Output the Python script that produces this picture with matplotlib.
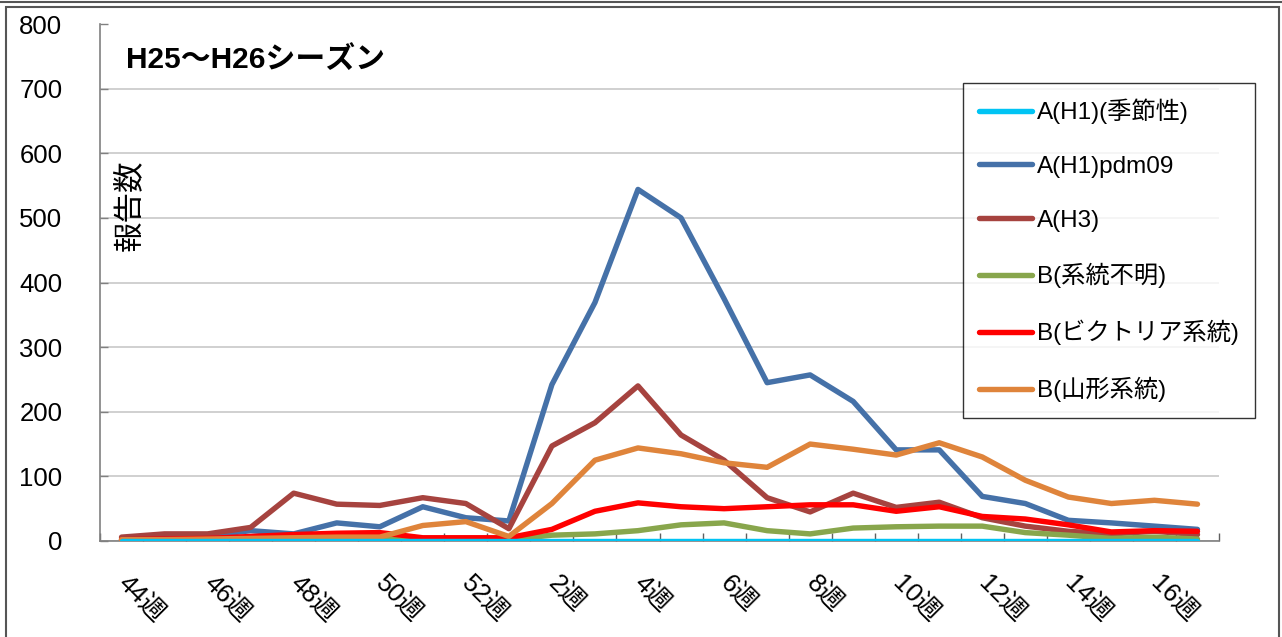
import matplotlib
matplotlib.use("Agg")
import matplotlib.pyplot as plt
from matplotlib.patches import Rectangle
from matplotlib.lines import Line2D

plt.rcParams['font.family'] = ['Liberation Sans', 'Noto Sans CJK JP', 'DejaVu Sans']

# weeks 44..52 then 1..17
weeks = [44, 45, 46, 47, 48, 49, 50, 51, 52] + list(range(1, 18))
week_labels = [f"{w}週" for w in weeks]

h1_seasonal = [0] * 26
h1_pdm09 = [3, 5, 8, 16, 11, 28, 22, 53, 36, 31, 242, 369, 544, 500, 375, 245, 257, 216, 141, 141, 69, 58, 32, 28, 23, 18]
h3 = [6, 11, 11, 21, 74, 57, 55, 67, 58, 19, 147, 183, 240, 164, 125, 67, 45, 74, 52, 60, 36, 23, 15, 11, 15, 10]
b_unknown = [0, 0, 1, 1, 2, 3, 3, 2, 2, 2, 9, 11, 16, 25, 28, 16, 11, 20, 22, 23, 23, 13, 9, 4, 6, 3]
b_victoria = [2, 3, 4, 7, 10, 12, 13, 5, 5, 5, 18, 46, 59, 53, 50, 53, 56, 56, 46, 53, 38, 34, 25, 14, 16, 15]
b_yamagata = [2, 2, 3, 4, 5, 6, 6, 24, 30, 7, 58, 125, 144, 135, 121, 114, 150, 142, 133, 152, 130, 94, 68, 58, 63, 57]

series = [
    ("A(H1)(季節性)", h1_seasonal, "#00C4F4"),
    ("A(H1)pdm09", h1_pdm09, "#4571A8"),
    ("A(H3)", h3, "#A6433F"),
    ("B(系統不明)", b_unknown, "#88A64C"),
    ("B(ビクトリア系統)", b_victoria, "#FF0000"),
    ("B(山形系統)", b_yamagata, "#DF843B"),
]

fig = plt.figure(figsize=(12.82, 6.37), dpi=100)
ax = fig.add_axes([100 / 1282, 1 - 541 / 637, 1119 / 1282, 517 / 637])

x = list(range(len(weeks)))
handles = []
# draw so the later series sit on top like the original
draw_order = [1, 2, 5, 4, 3, 0]
for k in draw_order:
    name, vals, col = series[k]
    ax.plot(x, vals, color=col, lw=3.9, solid_capstyle='round', solid_joinstyle='round', zorder=3 + k * 0.01 if k else 4)
for name, vals, col in series:
    handles.append(Line2D([], [], color=col, lw=3.9, solid_capstyle='round', label=name))

ax.set_xlim(-0.5, len(weeks) - 0.5)
ax.set_ylim(0, 800)
ax.set_yticks(range(0, 801, 100))
ax.yaxis.grid(True, color='#C8C8C8', lw=1.2)
ax.set_axisbelow(True)
ax.get_ygridlines()[-1].set_visible(False)

for s in ['top', 'right']:
    ax.spines[s].set_visible(False)
ax.spines['left'].set_color('#808080')
ax.spines['bottom'].set_color('#808080')
ax.spines['left'].set_linewidth(1.2)
ax.spines['bottom'].set_linewidth(1.2)

ax.tick_params(axis='y', direction='in', length=6, width=1, color='#808080',
               pad=27, labelsize=18.5)

label_pos = [i for i in x if i % 2 == 0]
ax.set_xticks(label_pos)
ax.set_xticklabels([week_labels[i] for i in label_pos], rotation=-45,
                   ha='left', va='center', rotation_mode='anchor')
ax.tick_params(axis='x', length=0, pad=28, labelsize=18.5)
ax.set_xticks([i + 0.5 for i in range(-1, len(weeks))], minor=True)
ax.tick_params(axis='x', which='minor', direction='in', length=6, width=1, color='#606060')

ax.text(0.023, 0.93, "H25～H26シーズン", transform=ax.transAxes, fontsize=21.5,
        fontweight='bold', ha='left', va='center')
ax.text(0.027, 0.65, "報告数", transform=ax.transAxes, fontsize=22,
        rotation=90, ha='center', va='center')

leg = ax.legend(handles=handles, loc='upper left',
                bbox_to_anchor=(963 / 1282, 1 - 83 / 637), bbox_transform=fig.transFigure,
                fontsize=17.5, handlelength=2.2, handletextpad=0.2, labelspacing=1.3,
                borderpad=0.65, borderaxespad=0, fancybox=False, frameon=True)
leg.get_frame().set_edgecolor('#000000')
leg.get_frame().set_linewidth(1.0)
leg.set_zorder(10)

# outer chart border
fig.add_artist(Rectangle((6 / 1282, -0.05), (1279 - 6) / 1282, 1.05 - 7 / 637,
                         transform=fig.transFigure, fill=False, ec='#555555', lw=1.5))
fig.add_artist(Line2D([0, 1281 / 1282], [1 - 1.5 / 637, 1 - 1.5 / 637],
                      transform=fig.transFigure, color='#555555', lw=1.5))

fig.savefig("out.png", dpi=100)
